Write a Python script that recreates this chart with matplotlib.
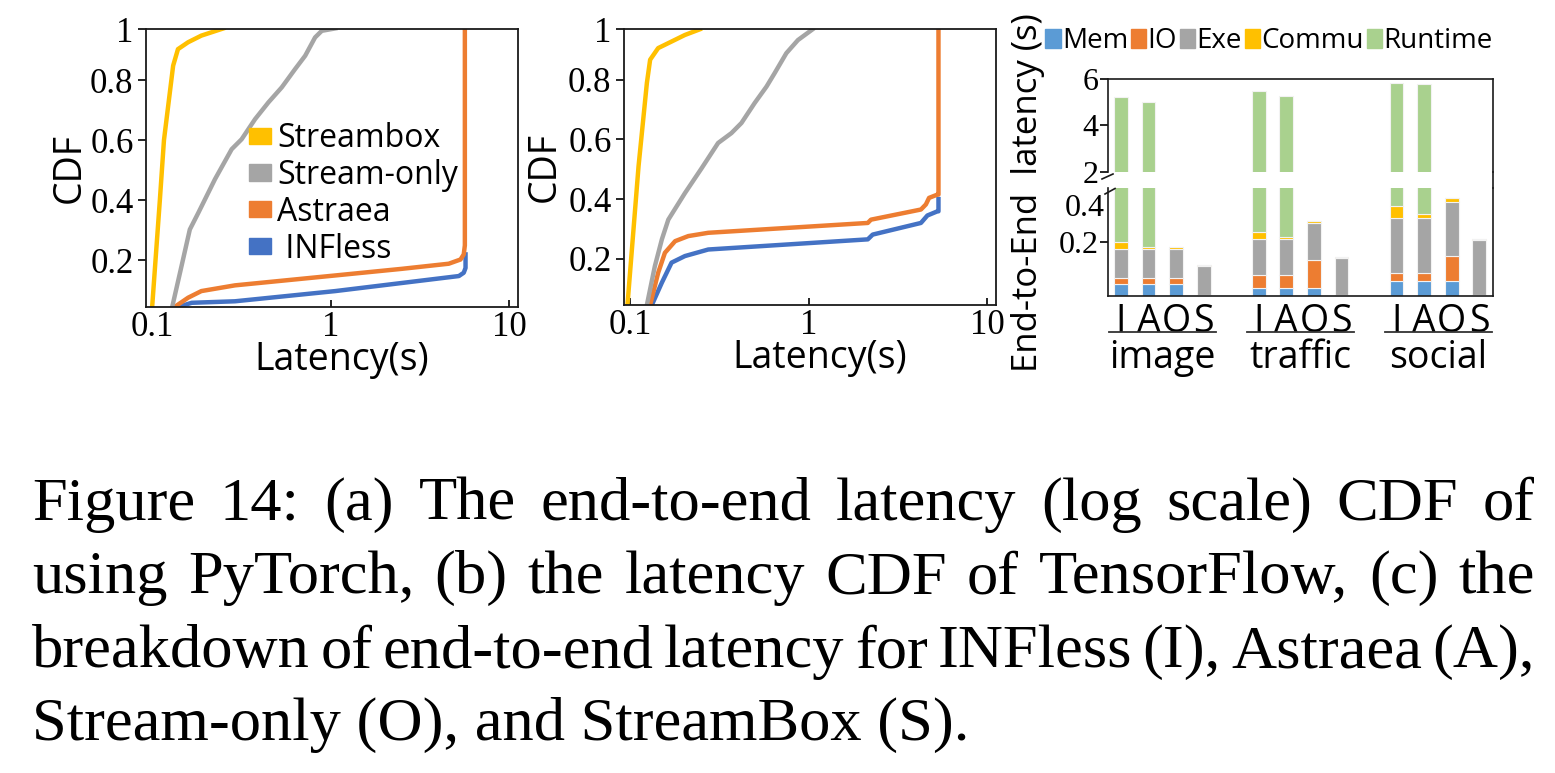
import numpy as np
import matplotlib
matplotlib.use('Agg')
import matplotlib.pyplot as plt
import matplotlib.transforms as mtransforms
from matplotlib.patches import Patch
from matplotlib.lines import Line2D

W, H = 1555, 773
SANS = ['Open Sans', 'DejaVu Sans']
SERIF = ['Liberation Serif', 'DejaVu Serif']
plt.rcParams['font.family'] = SANS

# ---- (a) PyTorch latency CDF ----
a_streambox_x = [0.0996, 0.104, 0.110, 0.116, 0.1306, 0.139, 0.1585, 0.188, 0.250]
a_streambox_y = [0.045, 0.2, 0.4, 0.6, 0.848, 0.903, 0.926, 0.948, 0.972]
a_streamonly_x = [0.129, 0.1455, 0.162, 0.181, 0.224, 0.278, 0.316, 0.376, 0.447,
                  0.531, 0.631, 0.718, 0.816, 0.89, 1.06]
a_streamonly_y = [0.045, 0.181, 0.303, 0.359, 0.47, 0.57, 0.603, 0.67, 0.726,
                  0.776, 0.837, 0.881, 0.942, 0.964, 0.972]
a_astraea_x = [0.133, 0.1585, 0.188, 0.290, 1.06, 2.5, 4.58, 5.33, 5.56, 5.64, 5.64]
a_astraea_y = [0.045, 0.076, 0.098, 0.117, 0.15, 0.172, 0.189, 0.203, 0.22, 0.25, 0.972]
a_infless_x = [0.139, 0.166, 0.290, 1.06, 5.22, 5.56, 5.69, 5.69]
a_infless_y = [0.045, 0.059, 0.064, 0.098, 0.148, 0.159, 0.175, 0.22]

# ---- (b) TensorFlow latency CDF ----
b_streambox_x = [0.0962, 0.111, 0.1236, 0.1289, 0.143, 0.170, 0.202, 0.245]
b_streambox_y = [0.045, 0.51, 0.789, 0.867, 0.906, 0.928, 0.95, 0.969]
b_streamonly_x = [0.1236, 0.137, 0.150, 0.163, 0.202, 0.251, 0.310, 0.368, 0.419,
                  0.497, 0.579, 0.643, 0.748, 0.869, 1.05]
b_streamonly_y = [0.045, 0.175, 0.265, 0.331, 0.42, 0.504, 0.588, 0.621, 0.655,
                  0.722, 0.777, 0.822, 0.889, 0.933, 0.969]
b_astraea_x = [0.1289, 0.143, 0.156, 0.178, 0.211, 0.273, 2.14, 2.23, 4.25, 4.53,
               4.72, 5.26, 5.33, 5.33]
b_astraea_y = [0.045, 0.153, 0.22, 0.259, 0.276, 0.287, 0.32, 0.331, 0.365, 0.382,
               0.404, 0.415, 0.415, 0.969]
b_infless_x = [0.1318, 0.150, 0.170, 0.202, 0.273, 2.14, 2.28, 4.25, 4.62, 5.26, 5.33, 5.33]
b_infless_y = [0.045, 0.12, 0.187, 0.209, 0.231, 0.265, 0.281, 0.32, 0.345, 0.359, 0.359, 0.40]

cdf_names = ['Streambox', 'Stream-only', 'Astraea', ' INFless']
cdf_colors = ['#FFC000', '#A5A5A5', '#ED7D31', '#4472C4']
cdf_ticks = [0.2, 0.4, 0.6, 0.8, 0.97]
cdf_ticklabels = ['0.2', '0.4', '0.6', '0.8', '1']

# ---- (c) latency breakdown ----
workloads = ['image', 'traffic', 'social']
systems = ['I', 'A', 'O', 'S']
parts = ['Mem', 'IO', 'Exe', 'Commu', 'Runtime']
part_colors = ['#5B9BD5', '#ED7D31', '#A5A5A5', '#FFC000', '#A9D18E']
mem = [0.044, 0.044, 0.044, 0.0, 0.030, 0.030, 0.030, 0.0, 0.056, 0.056, 0.056, 0.0]
io = [0.021, 0.021, 0.021, 0.003, 0.047, 0.047, 0.105, 0.003, 0.029, 0.029, 0.091, 0.003]
exe = [0.108, 0.108, 0.108, 0.109, 0.135, 0.135, 0.136, 0.138, 0.203, 0.203, 0.203, 0.204]
commu = [0.026, 0.008, 0.009, 0.002, 0.026, 0.008, 0.006, 0.003, 0.045, 0.014, 0.014, 0.004]
runtime = [5.04, 4.84, 0.0, 0.0, 5.26, 5.06, 0.0, 0.0, 5.51, 5.47, 0.0, 0.0]

caption_lines = [
    'Figure 14: (a) The end-to-end latency (log scale) CDF of',
    'using PyTorch, (b) the latency CDF of TensorFlow, (c) the',
    'breakdown of end-to-end latency for INFless (I), Astraea (A),',
    'Stream-only (O), and StreamBox (S).',
]


def rect(left, top, right, bottom):
    return [left / W, 1 - bottom / H, (right - left) / W, (bottom - top) / H]


def style_spines(ax, lw=1.3):
    for s in ax.spines.values():
        s.set_linewidth(lw)
        s.set_color('#1a1a1a')


def draw_cdf(fig, box, curves, label_x, legend=False):
    ax = fig.add_axes(rect(*box))
    # blue first so the orange vertical sits on top of it
    for i in [3, 2, 1, 0]:
        xs, ys = curves[i]
        ax.plot(xs, ys, color=cdf_colors[i], lw=3.2, label=cdf_names[i],
                solid_joinstyle='round')
    ax.set_xscale('log')
    ax.set_xlim(0.092, 11.2)
    ax.set_ylim(0.045, 0.97)
    ax.set_xticks([0.1, 1, 10], ['0.1', '1', '10'])
    ax.xaxis.set_minor_locator(matplotlib.ticker.NullLocator())
    ax.set_yticks(cdf_ticks, cdf_ticklabels)
    ax.tick_params(axis='y', direction='out', length=6, width=1.2, pad=3,
                   labelsize=25, labelfontfamily=SERIF[0])
    ax.tick_params(axis='x', direction='in', length=5, width=1.2, pad=3,
                   labelsize=25, labelfontfamily=SERIF[0])
    style_spines(ax)
    ax.set_ylabel('CDF', fontsize=27, va='center')
    ax.yaxis.set_label_coords(label_x, 0.5)
    # sits right under the tick labels, a bit right of centre
    ax.set_xlabel('Latency(s)', fontsize=27, labelpad=-2, x=0.527)
    if legend:
        handles = [Patch(color=c, label=n) for n, c in zip(cdf_names, cdf_colors)]
        ax.legend(handles=handles, loc='upper left', bbox_to_anchor=(0.277, 0.665),
                  frameon=False, fontsize=23, borderpad=0, borderaxespad=0,
                  handlelength=0.68, handleheight=0.4, handletextpad=0.2,
                  labelspacing=0.12)
    return ax


def draw_breakdown(fig):
    ax_top = fig.add_axes(rect(1108, 79, 1493, 172))
    ax_bot = fig.add_axes(rect(1108, 188, 1493, 296))
    pos = np.array([g * 5 + i for g in range(len(workloads)) for i in range(len(systems))])
    values = [mem, io, exe, commu, runtime]
    for ax in (ax_top, ax_bot):
        bottom = np.zeros(len(pos))
        for vals, color in zip(values, part_colors):
            ax.bar(pos, vals, 0.5, bottom=bottom, color=color, edgecolor='#F2F2F2', lw=0.8)
            bottom += np.array(vals)
        ax.set_xlim(-0.47, 13.5)
        style_spines(ax, 1.2)
        ax.tick_params(axis='y', direction='out', length=6, width=1.2, pad=1,
                       labelsize=23, labelfontfamily=SERIF[0])

    ax_top.set_ylim(2, 6)
    ax_top.set_yticks([2, 4, 6])
    ax_top.set_xticks([])
    ax_top.spines['bottom'].set_visible(False)

    ax_bot.set_ylim(0, 0.4)
    ax_bot.set_yticks([0.2], ['0.2'])
    ax_bot.spines['top'].set_visible(False)
    off = mtransforms.offset_copy(ax_bot.get_yaxis_transform(), fig=fig, x=-3, y=-20, units='dots')
    ax_bot.text(0, 0.4, '0.4', transform=off, ha='right', va='center',
                fontsize=23, family=SERIF)

    ax_bot.set_xticks(pos, systems * len(workloads))
    ax_bot.tick_params(axis='x', length=0, pad=5, labelsize=27)
    blend = mtransforms.blended_transform_factory(ax_bot.transData, ax_bot.transAxes)
    for g, name in enumerate(workloads):
        first, last = pos[g * 4], pos[g * 4 + 3]
        ax_bot.plot([first - 0.42, last + 0.45], [-0.335, -0.335], transform=blend,
                    clip_on=False, color='#333333', lw=1.3)
        ax_bot.text((first + last) / 2, -0.575, name, transform=blend,
                    ha='center', va='center', fontsize=27)

    # axis break marks and the continuous right spine
    for xs, ys in [([1102, 1113], [179, 174]), ([1105, 1115], [194, 188.5])]:
        fig.add_artist(Line2D([x / W for x in xs], [1 - y / H for y in ys],
                              color='#1a1a1a', lw=1.2))
    fig.add_artist(Line2D([1493 / W, 1493 / W], [1 - 172 / H, 1 - 188 / H],
                          color='#1a1a1a', lw=1.2))

    fig.text(1028 / W, 1 - 193 / H, 'End-to-End  latency (s)', rotation=90,
             ha='center', va='center', fontsize=25)
    handles = [Patch(color=c, label=n) for n, c in zip(parts, part_colors)]
    fig.legend(handles=handles, loc='center', bbox_to_anchor=(1269 / W, 1 - 41 / H),
               ncol=5, frameon=False, fontsize=20, borderpad=0, handlelength=0.55,
               handleheight=0.7, handletextpad=0.05, columnspacing=0.1)


def draw_caption(fig):
    renderer = fig.canvas.get_renderer()
    left, right = 32, 1535
    baselines = [520, 593, 667, 740]
    probe = fig.text(0, 0, caption_lines[-1], fontsize=40, family=SERIF)
    size = 40 * 936 / probe.get_window_extent(renderer).width
    probe.remove()
    for line, base in zip(caption_lines, baselines):
        y = 1 - base / H
        if line is caption_lines[-1]:
            fig.text(left / W, y, line, fontsize=size, family=SERIF, va='baseline')
            continue
        words = line.split(' ')
        texts = [fig.text(0, y, w, fontsize=size, family=SERIF, va='baseline') for w in words]
        widths = [t.get_window_extent(renderer).width for t in texts]
        gap = (right - left - sum(widths)) / (len(words) - 1)
        x = left
        for t, wd in zip(texts, widths):
            t.set_x(x / W)
            x += wd + gap


def main():
    fig = plt.figure(figsize=(W / 100, H / 100), dpi=100)
    a_curves = [(a_streambox_x, a_streambox_y), (a_streamonly_x, a_streamonly_y),
                (a_astraea_x, a_astraea_y), (a_infless_x, a_infless_y)]
    b_curves = [(b_streambox_x, b_streambox_y), (b_streamonly_x, b_streamonly_y),
                (b_astraea_x, b_astraea_y), (b_infless_x, b_infless_y)]
    draw_cdf(fig, (146, 29, 518, 307), a_curves, -0.205, legend=True)
    draw_cdf(fig, (624, 29, 996, 305), b_curves, -0.213)
    draw_breakdown(fig)
    draw_caption(fig)
    fig.savefig('out.png', dpi=100)


if __name__ == '__main__':
    main()
